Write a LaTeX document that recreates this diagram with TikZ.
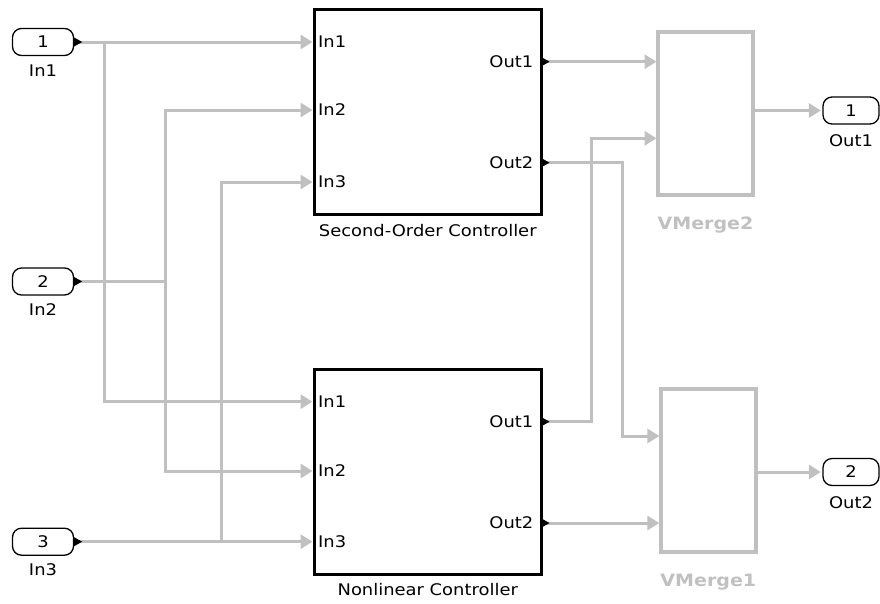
\documentclass[tikz,border=0pt]{standalone}
\usepackage{fontspec}
\setmainfont{DejaVu Sans}[FakeStretch=1.12]
\usetikzlibrary{arrows.meta,positioning,calc}
\definecolor{wiregray}{HTML}{C0C0C0}

\newcommand\outtip[1]{\fill (#1) ++(0,-4.5) -- ++(8,4.5) -- ++(-8,4.5) -- cycle;}

\begin{document}
\begin{tikzpicture}[x=1pt, y=-1pt,
      port/.style={draw, line width=1.3pt, rounded corners=9pt, minimum width=61pt,
                   minimum height=27pt, inner sep=0pt, font=\fontsize{16}{18}\selectfont},
      lbl/.style={font=\fontsize{16}{18}\selectfont, inner sep=0pt},
      ctrl/.style={draw, line width=3pt, minimum width=227.5pt, minimum height=205pt,
                   outer sep=0pt, inner sep=0pt},
      merge/.style={draw=wiregray, line width=4pt, minimum width=95pt, minimum height=163pt,
                    outer sep=0pt, inner sep=0pt},
      pin/.style={font=\fontsize{16}{18}\selectfont, inner xsep=4pt, inner ysep=0pt},
      pout/.style={pin, inner xsep=8pt},
      blab/.style={font=\fontsize{16}{18}\selectfont, inner sep=0pt},
      mlab/.style={font=\bfseries\fontsize{17}{19}\selectfont, text=wiregray, inner sep=0pt},
      sig/.style={draw=wiregray, line width=3pt},
      sigarr/.style={sig, -{Triangle[length=12pt, width=14pt]}, shorten >=1.5pt}]
    \useasboundingbox (0,0) rectangle (880,603);
    % inports
    \node[port] (in1) at (43,42) {1};
    \node[lbl, below=8pt of in1] (in1lab) {In1};
    \node[port] (in2) at (43,281.5) {2};
    \node[lbl, below=8pt of in2] (in2lab) {In2};
    \node[port] (in3) at (43,541.7) {3};
    \node[lbl, below=8pt of in3] (in3lab) {In3};
    % controllers
    \node[ctrl] (soc) at (427.75,112) {};
    \node[blab, below=10pt of soc] (soclab) {Second-Order Controller};
    \node[pin, anchor=west] (socI1) at (soc.west |- 0,42) {In1};
    \node[pin, anchor=west] (socI2) at (soc.west |- 0,110) {In2};
    \node[pin, anchor=west] (socI3) at (soc.west |- 0,182) {In3};
    \node[pout, anchor=east] (socO1) at (soc.east |- 0,61.7) {Out1};
    \node[pout, anchor=east] (socO2) at (soc.east |- 0,162.7) {Out2};
    \node[ctrl] (nlc) at (427.75,472) {};
    \node[blab, below=9pt of nlc] (nlclab) {Nonlinear Controller};
    \node[pin, anchor=west] (nlcI1) at (nlc.west |- 0,401.7) {In1};
    \node[pin, anchor=west] (nlcI2) at (nlc.west |- 0,471) {In2};
    \node[pin, anchor=west] (nlcI3) at (nlc.west |- 0,541.7) {In3};
    \node[pout, anchor=east] (nlcO1) at (nlc.east |- 0,421.7) {Out1};
    \node[pout, anchor=east] (nlcO2) at (nlc.east |- 0,523) {Out2};
    % merges
    \node[merge] (vm2) at (705.5,113.4) {};
    \node[mlab, below=22pt of vm2] (vm2lab) {VMerge2};
    \node[merge] (vm1) at (708.3,470) {};
    \node[mlab, below=22pt of vm1] (vm1lab) {VMerge1};
    % outports
    \node[port, minimum width=56pt] (out1) at (851,110.5) {1};
    \node[lbl, below=10pt of out1] (out1lab) {Out1};
    \node[port, minimum width=56pt] (out2) at (851,472) {2};
    \node[lbl, below=10pt of out2] (out2lab) {Out2};
    % branch points
    \coordinate (j1) at (104,42);
    \coordinate (j2) at (165.7,281.5);
    \coordinate (j3) at (221.7,541.7);
    % signals in
    \draw[sigarr] (in1.east) -- (socI1.west);
    \draw[sigarr] (j1) |- (nlcI1.west);
    \draw[sig] (in2.east) -- (j2);
    \draw[sigarr] (j2) |- (socI2.west);
    \draw[sigarr] (j2) |- (nlcI2.west);
    \draw[sigarr] (in3.east) -- (nlcI3.west);
    \draw[sigarr] (j3) |- (socI3.west);
    % signals out
    \draw[sigarr] (socO1.east) -- (vm2.west |- socO1.east);
    \draw[sigarr] (socO2.east) -- ++(80.5,0) |- (vm1.west |- 0,436);
    \draw[sigarr] (nlcO1.east) -- ++(50.2,0) |- (vm2.west |- 0,138.3);
    \draw[sigarr] (nlcO2.east) -- (vm1.west |- nlcO2.east);
    \draw[sigarr] (vm2.east |- out1.west) -- (out1.west);
    \draw[sigarr] (vm1.east |- out2.west) -- (out2.west);
    % port tips
    \outtip{in1.east}
    \outtip{in2.east}
    \outtip{in3.east}
    \outtip{socO1.east}
    \outtip{socO2.east}
    \outtip{nlcO1.east}
    \outtip{nlcO2.east}
  \end{tikzpicture}
\end{document}
